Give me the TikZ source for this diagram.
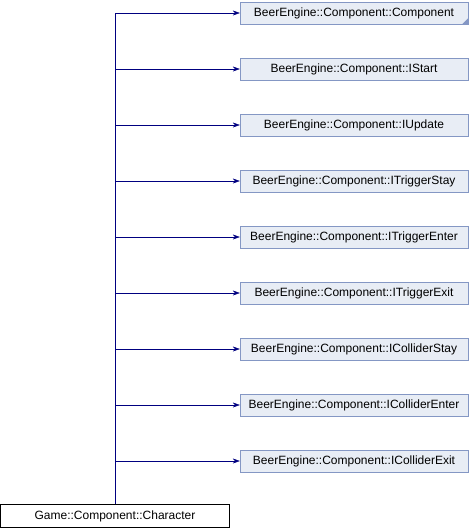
\documentclass[tikz,border=0pt]{standalone}
\usepackage{fontspec}
\setmainfont{Liberation Sans}
\usetikzlibrary{arrows.meta}
\definecolor{boxfill}{HTML}{E8EDF5}
\definecolor{boxline}{HTML}{8497C4}
\definecolor{linkblue}{HTML}{000080}
\tikzset{x=1pt, y=-1pt,
 base/.style={draw=boxline, fill=boxfill, minimum width=228pt, minimum height=22pt,
   inner sep=0pt, font=\fontsize{12}{14}\selectfont},
 derived/.style={draw=black, fill=white, minimum width=229pt, minimum height=23pt,
   inner sep=0pt, font=\fontsize{12}{14}\selectfont},
 inherit/.style={draw=linkblue, -{Stealth[length=7pt,width=5pt]}},
 }

\begin{document}
\begin{tikzpicture}
        \useasboundingbox (0, 0) rectangle (470, 528);
        \foreach \name[count=\i] in {Component, IStart, IUpdate, ITriggerStay,
            ITriggerEnter, ITriggerExit, IColliderStay, IColliderEnter, IColliderExit} {
            \node[base] (b\i) at (354, 13+56*\i-56) {BeerEngine::Component::\name};
        }
        \fill[boxline] (b1.south east) -- ++(-6, 0) -- ++(6, -6) -- cycle;

        \node[derived] (char) at (115, 516) {Game::Component::Character};
        \draw[linkblue] (char.north) -- (char.north |- b1.west);
        \foreach \i in {1, ..., 9} {
            \draw[inherit] (char.north |- b\i.west) -- (b\i.west);
        }
    \end{tikzpicture}
\end{document}
